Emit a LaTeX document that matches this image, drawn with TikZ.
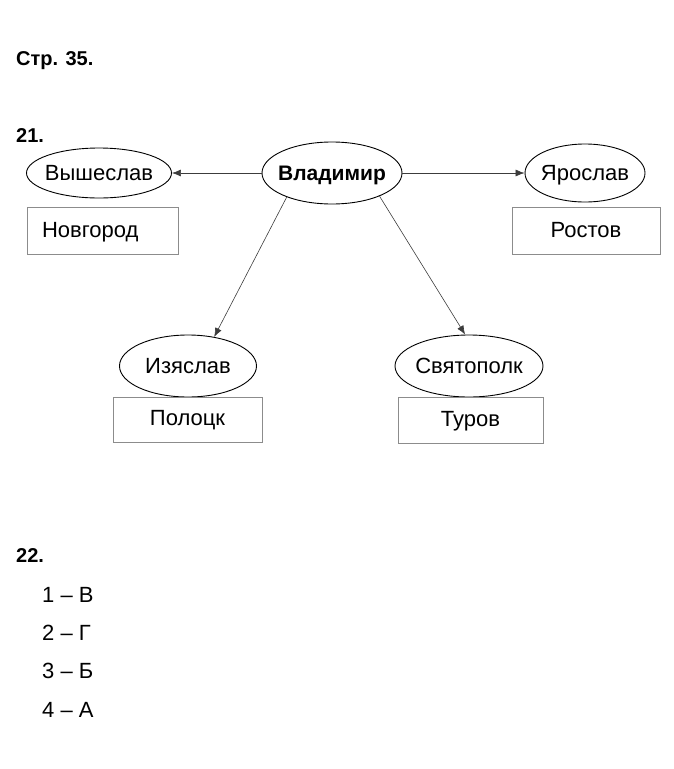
\documentclass[tikz,border=0pt]{standalone}
\usepackage{fontspec}
\setmainfont{Liberation Sans}
\usepackage{tikz}
\usetikzlibrary{shapes.geometric,arrows.meta}
\definecolor{boxgray}{HTML}{8C8C8C}
\definecolor{arrgray}{HTML}{3C3C3C}

\begin{document}
\begin{tikzpicture}[
   x=1pt, y=-1pt,
   every node/.append style={font=\fontsize{22}{26}\selectfont, inner sep=0pt},
   head/.style={anchor=base west, font=\fontsize{20}{24}\selectfont\bfseries},
   item/.style={anchor=base west},
   prince/.style={ellipse, draw=black, line width=0.9pt, minimum height=62pt,
                  inner xsep=-8pt, text height=14pt, text depth=0pt},
   city/.style={rectangle, draw=boxgray, line width=0.8pt, minimum width=148pt, minimum height=47pt,
                text height=12pt, text depth=0pt},
   son/.style={draw=arrgray, line width=0.6pt, -{Latex[length=9pt,width=7pt]}}
]
\useasboundingbox (0,0) rectangle (673,769);

\node[head] (page) at (16,65) {Стр. 35.};
\node[head] (t21) at (16,142) {21.};

\node[prince, minimum width=140pt, font=\fontsize{21}{25}\selectfont\bfseries] (vlad) at (332,173) {Владимир};
\node[prince, minimum width=145pt, minimum height=50pt] (vysh) at (99,173) {Вышеслав};
\node[prince, minimum width=120pt, minimum height=58pt] (yaro) at (585,173) {Ярослав};
\node[prince, minimum width=137pt] (izya) at (188,366) {Изяслав};
\node[prince, minimum width=148pt] (svya) at (469,366) {Святополк};

\node[city, minimum width=151pt, text width=121pt, align=left] (novg) at (102.5,231) {Новгород};
\node[city] (rost) at (586,231) {Ростов};
\node[city, minimum width=149pt, minimum height=45pt] (polo) at (187.5,419.5) {Полоцк};
\node[city, minimum width=145pt, minimum height=46pt] (turo) at (470.5,420) {Туров};

\draw[son] (vlad) -- (vysh);
\draw[son] (vlad) -- (yaro);
\draw[son] (vlad.208) -- (izya.48);
\draw[son] (vlad.334) -- (svya.97);

\node[head] (t22) at (16,562) {22.};
\node[item] (a1) at (42,602) {1 – В};
\node[item] (a2) at (42,640) {2 – Г};
\node[item] (a3) at (42,678) {3 – Б};
\node[item] (a4) at (42,717) {4 – А};
\end{tikzpicture}
\end{document}
